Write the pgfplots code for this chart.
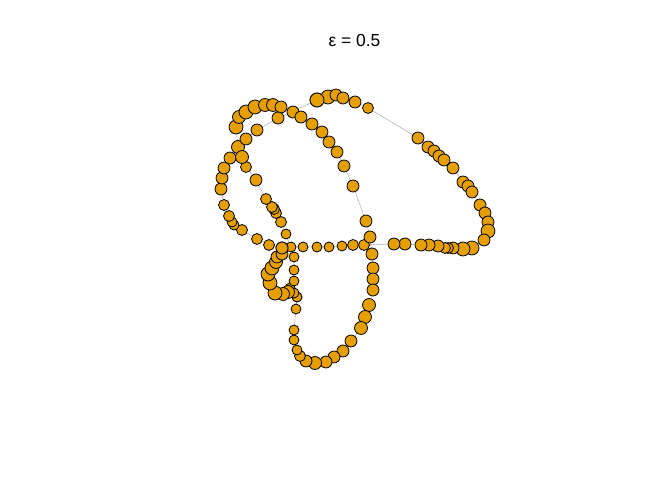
\documentclass[border=0pt]{standalone}
\usepackage{pgfplots}
\pgfplotsset{compat=1.18}
\usepackage{fontspec}
\setmainfont{Liberation Sans}
\definecolor{nodefill}{RGB}{230,159,0}
\definecolor{edgecol}{RGB}{170,170,170}

% pixel positions (x right, y down) and radius of each vertex
\pgfplotstableread{
x y r
317 100 6
328 97 6
336 95 5
343 98 5
355 102 5
368 108 4.5
418 138 5
428 147 5
434 151 5
439 156 5
444 160 5
453 168 5
463 182 5
468 186 5
472 192 5
480 205 5
485 213 5
488 222 5
488 231 6
484 240 5
472 248 6
463 249 6
453 248 5
448 248 4.5
445 248 4.5
438 246 5
429 245 5
421 245 5
405 244 5
394 244 5
364 245 4.5
353 245 4.5
342 246 4
329 247 4
317 247 4
303 247 4
291 247 4
282 248 5
269 245 4.5
257 239 4.5
242 230 4.5
234 225 4
232 222 4
229 216 4.5
224 205 4.5
221 189 5
222 178 5
224 168 5
230 158 5
238 147 5.5
236 127 6
239 117 5.5
246 112 6
255 107 6
265 105 5.5
273 105 5.5
281 107 5
293 112 5
301 117 5
312 124 5
322 132 5
329 142 5
337 152 5
344 166 5
353 186 5
366 221 5
370 237 5
372 254 5
373 268 5
373 279 5
373 290 5
369 305 5.5
365 317 5.5
361 328 5.5
351 341 5
343 351 5
334 357 5
326 362 5
315 363 5.5
306 361 5
300 356 4.5
297 350 4
294 340 4
294 330 4
296 309 4
297 297 4
290 288 4
294 281 4
294 270 4
294 257 4
286 234 4
281 222 4.5
276 213 4.5
274 209 4.5
272 207 4.5
266 199 4.5
256 180 5
246 167 4.5
242 157 5.5
246 139 5
257 130 5
278 118 5
317 100 6
}\mainloop

\pgfplotstableread{
x y r
297 297 4
294 293 4
288 292 5.5
283 294 5.5
275 293 6
270 283 6
268 274 6
272 268 6
276 262 5.5
277 257 5
282 254 5
282 248 5
}\curl

\begin{document}
\begin{tikzpicture}
\begin{axis}[
    width=672bp, height=480bp, scale only axis,
    xmin=0, xmax=672, ymin=0, ymax=480,
    y dir=reverse,
    hide axis,
    clip=false,
]
% edges
\addplot[edgecol, line width=0.5pt, no marks] table[x=x, y=y] {\mainloop};
\addplot[edgecol, line width=0.5pt, no marks] table[x=x, y=y] {\curl};
% vertices, radius a bit larger than the table value
\addplot[scatter, only marks, mark=*,
    point meta=explicit, 
    scatter/use mapped color={draw=black, fill=nodefill},
    mark options={line width=0.8pt},
    visualization depends on={\thisrow{r}+1 \as \rad},
    scatter/@pre marker code/.append style={/tikz/mark size=\rad},
] table[x=x, y=y, meta=r] {\mainloop};
\addplot[scatter, only marks, mark=*,
    point meta=explicit,
    scatter/use mapped color={draw=black, fill=nodefill},
    mark options={line width=0.8pt},
    visualization depends on={\thisrow{r}+1 \as \rad},
    scatter/@pre marker code/.append style={/tikz/mark size=\rad},
] table[x=x, y=y, meta=r] {\curl};
\node[anchor=base, font=\fontsize{17.5}{20}\selectfont, inner sep=0pt] at (axis cs:354.5,46.7) {ε = 0.5};
\end{axis}
\draw[draw=none] (current axis.south west) rectangle (current axis.north east);
\end{tikzpicture}
\end{document}
